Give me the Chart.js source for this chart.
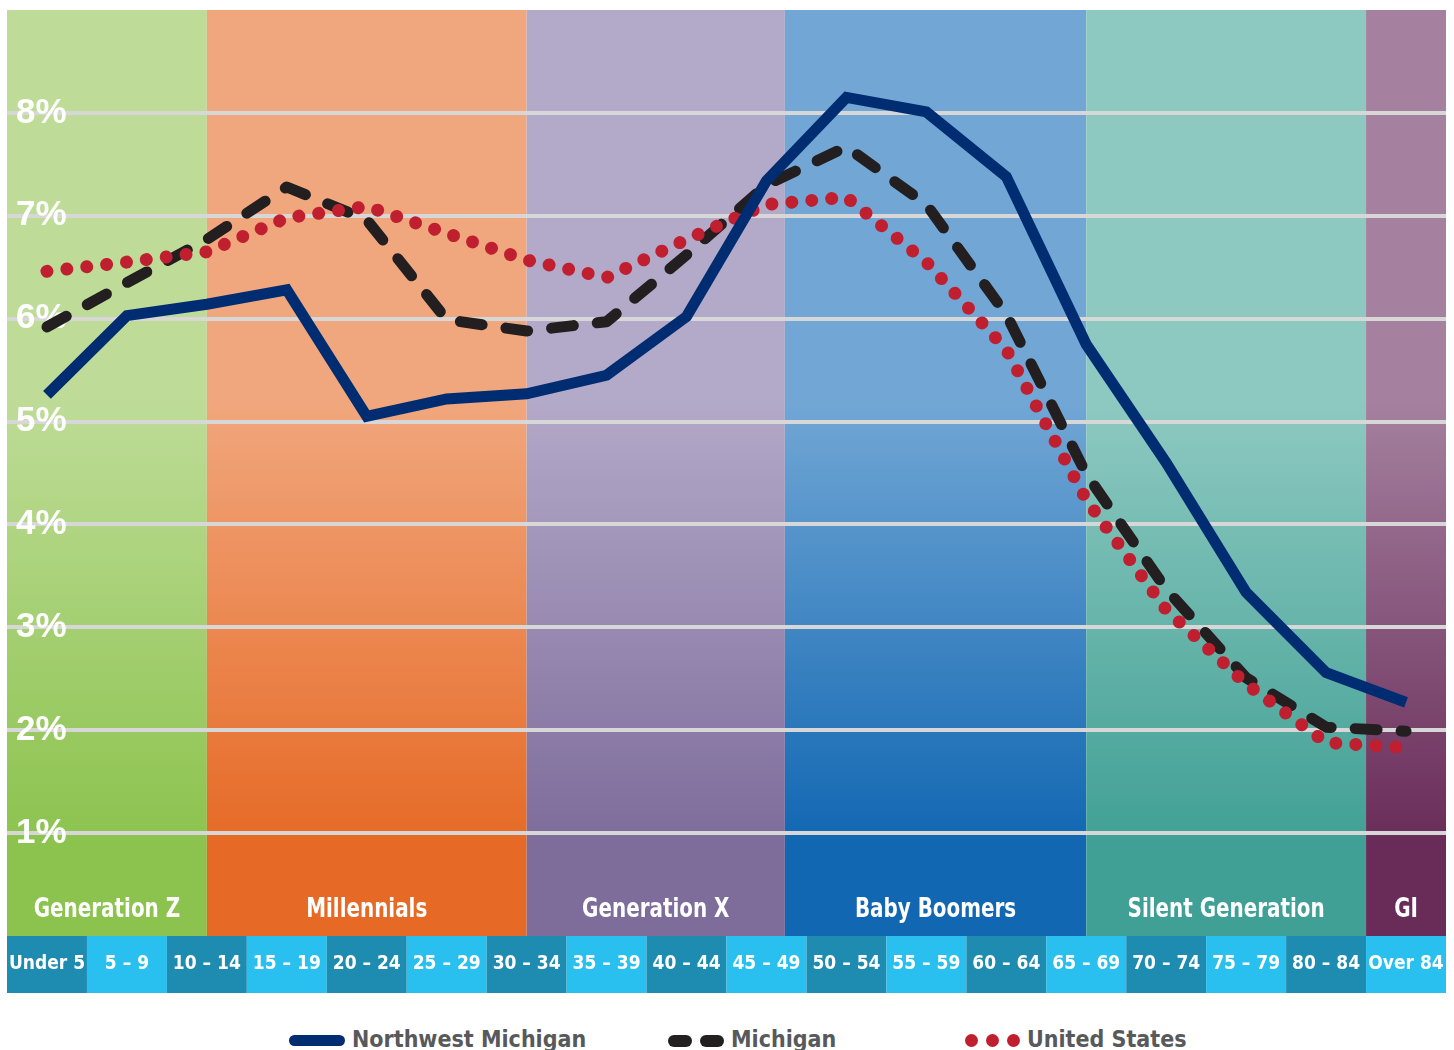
<!DOCTYPE html>
<html>
<head>
<meta charset="utf-8">
<title>Population by age group</title>
<script src="https://cdn.jsdelivr.net/npm/chart.js@4.4.1/dist/chart.umd.min.js"></script>
<style>
  body { margin: 0; background: #fff; }
  #wrap { position: relative; width: 1454px; height: 1050px; overflow: hidden; }
  #chart { position: absolute; left: 0; top: 0; }
  .legend { position: absolute; left: 0; top: 1024px; width: 1454px; height: 30px;
    font: bold 23px 'Liberation Sans Narrow', 'DejaVu Sans Condensed', sans-serif; color: #58595b; }
  .item { position: absolute; top: 0; height: 30px; display: flex; align-items: center; }
  .sym { display: inline-block; margin-right: 7px; }
  .sym span { display: inline-block; vertical-align: middle; }
</style>
</head>
<body>
<div id="wrap">
  <canvas id="chart" width="1454" height="1000"></canvas>
  <div class="legend">
    <div class="item" style="left:289px">
      <span class="sym"><span style="width:56px;height:11px;border-radius:6px;background:#002d72"></span></span>Northwest Michigan
    </div>
    <div class="item" style="left:668px">
      <span class="sym"><span style="width:24px;height:12px;border-radius:6px;background:#231f20;margin-right:8px"></span><span style="width:24px;height:12px;border-radius:6px;background:#231f20"></span></span>Michigan
    </div>
    <div class="item" style="left:965px">
      <span class="sym"><span style="width:13px;height:13px;border-radius:50%;background:#c01f30;margin-right:8px"></span><span style="width:13px;height:13px;border-radius:50%;background:#c01f30;margin-right:8px"></span><span style="width:13px;height:13px;border-radius:50%;background:#c01f30"></span></span>United States
    </div>
  </div>
</div>
<script>
// age groups along the bottom
var ageGroups = ['Under 5', '5 – 9', '10 – 14', '15 – 19', '20 – 24', '25 – 29', '30 – 34', '35 – 39',
  '40 – 44', '45 – 49', '50 – 54', '55 – 59', '60 – 64', '65 – 69', '70 – 74', '75 – 79', '80 – 84', 'Over 84'];

// share of population, %
var nwMichigan = [5.26, 6.03, 6.14, 6.28, 5.05, 5.22, 5.27, 5.45, 6.02, 7.34, 8.15, 8.01, 7.38, 5.75, 4.60, 3.34, 2.56, 2.27];
var michigan   = [5.92, 6.35, 6.77, 7.28, 6.96, 5.99, 5.88, 5.97, 6.62, 7.30, 7.67, 7.11, 6.04, 4.49, 3.37, 2.51, 2.03, 1.99];
var unitedStates = [6.46, 6.55, 6.65, 6.98, 7.09, 6.83, 6.57, 6.40, 6.77, 7.11, 7.18, 6.55, 5.70, 4.24, 3.17, 2.45, 1.88, 1.83];

// generations, with the span they cover on the age axis (category index)
var generations = ['Generation Z', 'Millennials', 'Generation X', 'Baby Boomers', 'Silent Generation', 'GI'];
var genStart = [-0.5, 2, 6, 9.23, 13, 16.5];
var genEnd   = [2, 6, 9.23, 13, 16.5, 17.5];

var genTop    = ['#bedc98', '#f1a77e', '#b3a9c8', '#72a7d5', '#8ec9c1', '#a5819f'];
var genBottom = ['#8cc34e', '#e66a26', '#7e6c9b', '#1167b2', '#41a095', '#692c59'];

var condensed = "'Liberation Sans Narrow', 'DejaVu Sans Condensed', sans-serif";

var bandsPlugin = {
  id: 'bands',
  beforeDraw: function(chart) {
    var c = chart.ctx, a = chart.chartArea, x = chart.scales.x;
    c.save();
    for (var i = 0; i < generations.length; i++) {
      var x0 = x.getPixelForValue(genStart[i]);
      var x1 = x.getPixelForValue(genEnd[i]);
      var g = c.createLinearGradient(0, a.top, 0, a.bottom);
      g.addColorStop(0, genTop[i]);
      g.addColorStop(0.42, genTop[i]);
      g.addColorStop(0.9, genBottom[i]);
      g.addColorStop(1, genBottom[i]);
      c.fillStyle = g;
      c.fillRect(x0, a.top, x1 - x0, a.bottom - a.top);
    }
    // age group row
    for (var j = 0; j < ageGroups.length; j++) {
      var l = x.getPixelForValue(j - 0.5), r = x.getPixelForValue(j + 0.5);
      c.fillStyle = j % 2 ? '#29bfee' : '#1e8bb0';
      c.fillRect(l, a.bottom, r - l, x.bottom - a.bottom);
    }
    c.restore();
  },
  afterDatasetsDraw: function(chart) {
    var c = chart.ctx, a = chart.chartArea, x = chart.scales.x;
    c.fillStyle = '#fff';
    c.font = 'bold 27px ' + condensed;
    c.textAlign = 'center';
    c.textBaseline = 'middle';
    for (var i = 0; i < generations.length; i++) {
      var mid = (x.getPixelForValue(genStart[i]) + x.getPixelForValue(genEnd[i])) / 2;
      c.save();
      c.translate(mid, a.bottom - 26);
      c.scale(0.82, 1);  // squeeze to look like the condensed face
      c.fillText(generations[i], 0, 0);
      c.restore();
    }
  }
};

new Chart(document.getElementById('chart'), {
  type: 'line',
  data: {
    labels: ageGroups,
    datasets: [{
      label: 'Northwest Michigan',
      data: nwMichigan,
      borderColor: '#002d72',
      borderWidth: 11,
      borderJoinStyle: 'miter',
      borderCapStyle: 'butt'
    }, {
      label: 'United States',
      data: unitedStates,
      borderColor: '#c01f30',
      borderWidth: 13,
      borderDash: [0.01, 20],
      borderCapStyle: 'round'
    }, {
      label: 'Michigan',
      data: michigan,
      borderColor: '#231f20',
      borderWidth: 11,
      borderDash: [22, 24],
      borderCapStyle: 'round',
      borderJoinStyle: 'round'
    }]
  },
  options: {
    responsive: false,
    animation: false,
    layout: { padding: { left: 7, right: 8, top: 10, bottom: 7 } },
    elements: { point: { radius: 0 }, line: { tension: 0 } },
    plugins: { legend: { display: false }, tooltip: { enabled: false } },
    scales: {
      x: {
        offset: true,
        grid: { display: false, drawTicks: false },
        border: { display: false },
        ticks: { color: '#fff', font: { family: condensed, size: 19, weight: 'bold' },
          padding: 17, autoSkip: false, maxRotation: 0 },
        afterFit: function(s) { s.height = 57; s.paddingLeft = 0; s.paddingRight = 0; }
      },
      y: {
        min: 0, max: 9,
        border: { display: false },
        grid: {
          color: function(ctx) { var v = ctx.tick.value; return (v === 0 || v === 9) ? 'rgba(0,0,0,0)' : '#d7d7d7'; },
          lineWidth: 4,
          drawTicks: false
        },
        ticks: {
          stepSize: 1,
          mirror: true,
          padding: 9,
          color: '#fff',
          font: { family: "'Liberation Sans', Arial, sans-serif", size: 35, weight: 'bold' },
          callback: function(v) { return (v === 0 || v === 9) ? '' : v + '%'; }
        },
        afterFit: function(s) { s.width = 0; s.paddingTop = 0; s.paddingBottom = 0; }
      }
    }
  },
  plugins: [bandsPlugin]
});
</script>
</body>
</html>
